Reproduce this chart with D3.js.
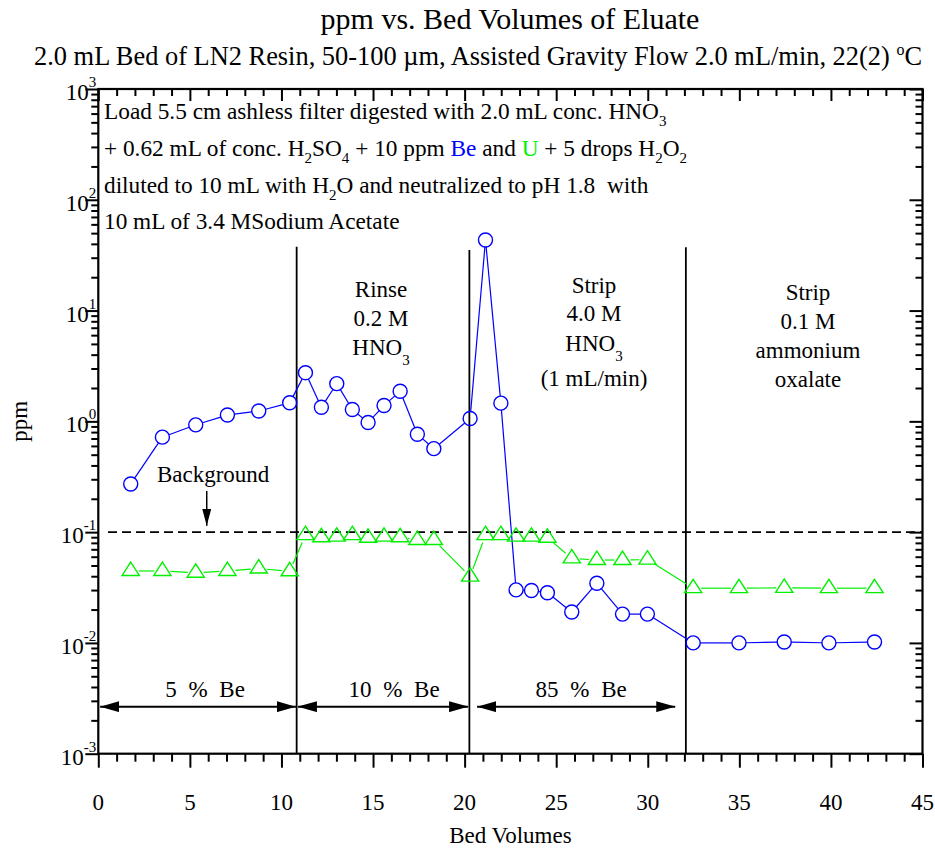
<!DOCTYPE html>
<html><head><meta charset="utf-8">
<script src="https://cdn.jsdelivr.net/npm/d3@7"></script>
<style>
body{margin:0;background:#fff}
svg{display:block}
text{font-family:"Liberation Serif","Times New Roman",serif;fill:#000}
</style>
</head><body>
<svg id="chart" width="935" height="849"></svg>
<script>
// ---- data ----
const bedVolumes = [1.77,3.50,5.32,7.05,8.76,10.45,11.31,12.18,13.02,13.87,14.73,15.60,16.48,17.42,18.32,20.30,21.14,21.98,22.81,23.65,24.52,25.85,27.22,28.62,29.98,32.48,34.98,37.45,39.89,42.38];
const bePpm = [0.272,0.72,0.93,1.14,1.24,1.47,2.75,1.34,2.19,1.28,0.975,1.39,1.87,0.764,0.567,1.06,43.4,1.46,0.0301,0.0297,0.0284,0.0190,0.0346,0.0182,0.0182,0.0100,0.0100,0.0102,0.0100,0.0102];
const uPpm = [0.0446,0.0446,0.043,0.0446,0.0469,0.0443,0.094,0.090,0.091,0.094,0.089,0.091,0.090,0.085,0.085,0.0397,0.094,0.094,0.091,0.091,0.089,0.058,0.056,0.056,0.0565,0.0312,0.0312,0.0314,0.0312,0.0312];
const xTickValues = [0,5,10,15,20,25,30,35,40,45];
const yTickExponents = [-3,-2,-1,0,1,2,3];
const separatorX = [10.83,20.26,32.08];
const separatorTop = [37.7,35.2,37.2];
const backgroundLevel = 0.1;
const fractionLabels = ["5 % Be","10 % Be","85 % Be"];
const fractionStart = [0.1,10.9,20.68];
const fractionEnd = [10.79,20.19,31.5];
const fractionLevel = 0.00266;

// ---- layout ----
const svg = d3.select("#chart");
const L = 98.3, R = 922.5, T = 89, B = 753.7;
const x = d3.scaleLinear().domain([0,45]).range([L,R]);
const y = d3.scaleLog().domain([1e-3,1e3]).range([B,T]);
const BLUE = "#0000ff", GREEN = "#00f000";

// defs: arrow heads
const defs = svg.append("defs");
function arrowMarker(id, len, wid){
  defs.append("marker").attr("id",id).attr("viewBox",`0 0 ${len} ${wid}`).attr("refX",len).attr("refY",wid/2)
    .attr("markerWidth",len).attr("markerHeight",wid).attr("markerUnits","userSpaceOnUse").attr("orient","auto-start-reverse")
    .append("path").attr("d",`M0,0 L${len},${wid/2} L0,${wid} Z`).attr("fill","#000");
}
arrowMarker("ahBig",19,11);
arrowMarker("ahSmall",17,9);

// ---- axes ----
const minorX = d3.range(0,46,1).filter(v=>v%5!==0);
const minorY = [];
for (let e=-3;e<3;e++) for (let k=2;k<10;k++) minorY.push(k*Math.pow(10,e));
const majorY = yTickExponents.map(e=>Math.pow(10,e));

function styleAxis(g){ g.select(".domain").remove(); g.selectAll("line").attr("stroke","#000").attr("stroke-width",2); }

svg.append("g").attr("transform",`translate(0,${B})`).call(d3.axisBottom(x).tickValues(minorX).tickSize(8).tickFormat("")).call(styleAxis);
svg.append("g").attr("transform",`translate(0,${B})`).call(d3.axisBottom(x).tickValues(xTickValues).tickSize(14).tickFormat("")).call(styleAxis);
svg.append("g").attr("transform",`translate(0,${T})`).call(d3.axisTop(x).tickValues(minorX).tickSize(-7).tickFormat("")).call(styleAxis);
svg.append("g").attr("transform",`translate(0,${T})`).call(d3.axisTop(x).tickValues(xTickValues).tickSize(-12).tickFormat("")).call(styleAxis);
svg.append("g").attr("transform",`translate(${L},0)`).call(d3.axisLeft(y).tickValues(minorY).tickSize(7).tickFormat("")).call(styleAxis);
svg.append("g").attr("transform",`translate(${L},0)`).call(d3.axisLeft(y).tickValues(majorY).tickSize(13).tickFormat("")).call(styleAxis);
svg.append("g").attr("transform",`translate(${R},0)`).call(d3.axisRight(y).tickValues(minorY).tickSize(-7).tickFormat("")).call(styleAxis);
svg.append("g").attr("transform",`translate(${R},0)`).call(d3.axisRight(y).tickValues(majorY).tickSize(-13).tickFormat("")).call(styleAxis);
svg.append("rect").attr("x",L).attr("y",T).attr("width",R-L).attr("height",B-T)
  .attr("fill","none").attr("stroke","#000").attr("stroke-width",2.2);

// tick labels
svg.append("g").selectAll("text").data(xTickValues).join("text")
  .attr("x",d=>x(d)).attr("y",B+56).attr("text-anchor","middle").attr("font-size",23).text(d=>d);
const yl = svg.append("g").selectAll("text").data(yTickExponents).join("text")
  .attr("x",L-2).attr("y",d=>y(Math.pow(10,d))+11).attr("text-anchor","end").attr("font-size",23);
yl.append("tspan").text("10");
yl.append("tspan").attr("dy",-13).attr("font-size",15).text(d=>d);

// axis titles
svg.append("text").attr("x",(L+R)/2).attr("y",843).attr("text-anchor","middle").attr("font-size",23).text("Bed Volumes");
svg.append("text").attr("transform",`translate(27,${y(1)}) rotate(-90)`).attr("text-anchor","middle").attr("font-size",23).text("ppm");

// titles
svg.append("text").attr("x",510).attr("y",29).attr("text-anchor","middle").attr("font-size",30).text("ppm vs. Bed Volumes of Eluate");
const sub = svg.append("text").attr("x",478).attr("y",65).attr("text-anchor","middle").attr("font-size",26.4);
sub.append("tspan").text("2.0 mL Bed of LN2 Resin, 50-100 \u00b5m, Assisted Gravity Flow 2.0 mL/min, 22(2) ");
sub.append("tspan").attr("dy",-10).attr("font-size",16).text("o");
sub.append("tspan").attr("dy",10).text("C");

// ---- separators & background ----
svg.append("g").selectAll("line").data(separatorX).join("line")
  .attr("x1",d=>x(d)).attr("x2",d=>x(d)).attr("y1",(d,i)=>y(separatorTop[i])).attr("y2",B)
  .attr("stroke","#000").attr("stroke-width",1.8);
svg.append("line").attr("x1",x(0.53)).attr("x2",R).attr("y1",y(backgroundLevel)).attr("y2",y(backgroundLevel))
  .attr("stroke","#000").attr("stroke-width",1.8).attr("stroke-dasharray","9,5");

// ---- series ----
function gapped(g, xs, ys, color, gap){
  const pts = xs.map((v,i)=>[x(v),y(ys[i])]);
  const segs = [];
  for (let i=0;i<pts.length-1;i++){
    const [x1,y1]=pts[i],[x2,y2]=pts[i+1];
    const dx=x2-x1, dy=y2-y1, len=Math.hypot(dx,dy);
    if (len<=2*gap) continue;
    const ux=dx/len, uy=dy/len;
    segs.push([x1+ux*gap,y1+uy*gap,x2-ux*gap,y2-uy*gap]);
  }
  g.selectAll("line").data(segs).join("line")
    .attr("x1",d=>d[0]).attr("y1",d=>d[1]).attr("x2",d=>d[2]).attr("y2",d=>d[3])
    .attr("stroke",color).attr("stroke-width",1.2);
}
gapped(svg.append("g"), bedVolumes, uPpm, GREEN, 8);
gapped(svg.append("g"), bedVolumes, bePpm, BLUE, 7);
svg.append("g").selectAll("path").data(bedVolumes).join("path")
  .attr("transform",(d,i)=>`translate(${x(d)},${y(uPpm[i])})`)
  .attr("d","M0,-8.9 L8.6,4.5 L-8.6,4.5 Z").attr("fill","none").attr("stroke",GREEN).attr("stroke-width",1.4);
svg.append("g").selectAll("circle").data(bedVolumes).join("circle")
  .attr("cx",d=>x(d)).attr("cy",(d,i)=>y(bePpm[i])).attr("r",7)
  .attr("fill","none").attr("stroke",BLUE).attr("stroke-width",1.4);

// ---- annotations ----
const ann = svg.append("g").attr("font-size",23.3);
function line(yy, parts){
  const t = ann.append("text").attr("x",104).attr("y",yy);
  let back = 0;
  parts.forEach(p=>{
    if (typeof p === "object" && p.s) { t.append("tspan").attr("dy",7).attr("font-size",15).text(p.s); back = -7; return; }
    const s = t.append("tspan").text(typeof p === "string" ? p : p.t);
    if (typeof p === "object" && p.c) s.attr("fill",p.c);
    if (back) { s.attr("dy",back); back = 0; }
  });
}
line(119,["Load 5.5 cm ashless filter digested with 2.0 mL conc. HNO",{s:"3"}]);
line(156,["+ 0.62 mL of conc. H",{s:"2"},"SO",{s:"4"}," + 10 ppm ",{c:BLUE,t:"Be"}," and ",{c:GREEN,t:"U"}," + 5 drops H",{s:"2"},"O",{s:"2"}]);
line(193,["diluted to 10 mL with H",{s:"2"},"O and neutralized to pH 1.8 \u00a0with"]);
line(229,["10 mL of 3.4 MSodium Acetate"]);

function block(cx, ys, items){
  items.forEach((it,i)=>{
    const t = svg.append("text").attr("x",cx).attr("y",ys[i]).attr("text-anchor","middle").attr("font-size",23);
    if (Array.isArray(it)) { t.append("tspan").text(it[0]); t.append("tspan").attr("dy",10).attr("font-size",15).text(it[1]); }
    else t.text(it);
  });
}
block(381,[297,326,355],["Rinse","0.2 M",["HNO","3"]]);
block(594,[293,321,351,386],["Strip","4.0 M",["HNO","3"],"(1 mL/min)"]);
block(808,[300,329,358,387],["Strip","0.1 M","ammonium","oxalate"]);

// background arrow
svg.append("text").attr("x",x(6.27)).attr("y",482).attr("text-anchor","middle").attr("font-size",23).text("Background");
svg.append("line").attr("x1",x(5.92)).attr("x2",x(5.92)).attr("y1",y(0.235)).attr("y2",y(0.114))
  .attr("stroke","#000").attr("stroke-width",1.5).attr("marker-end","url(#ahSmall)");

// fraction arrows
svg.append("g").selectAll("line").data(fractionLabels).join("line")
  .attr("x1",(d,i)=>x(fractionStart[i])).attr("x2",(d,i)=>x(fractionEnd[i]))
  .attr("y1",y(fractionLevel)).attr("y2",y(fractionLevel))
  .attr("stroke","#000").attr("stroke-width",2)
  .attr("marker-start","url(#ahBig)").attr("marker-end","url(#ahBig)");
svg.append("g").selectAll("text").data(fractionLabels).join("text")
  .attr("x",(d,i)=>x((fractionStart[i]+fractionEnd[i])/2)+(i===0?7:i===1?11:5)).attr("y",y(fractionLevel)-10)
  .attr("text-anchor","middle").attr("font-size",23).attr("word-spacing",6).text(d=>d);
</script>
</body></html>
